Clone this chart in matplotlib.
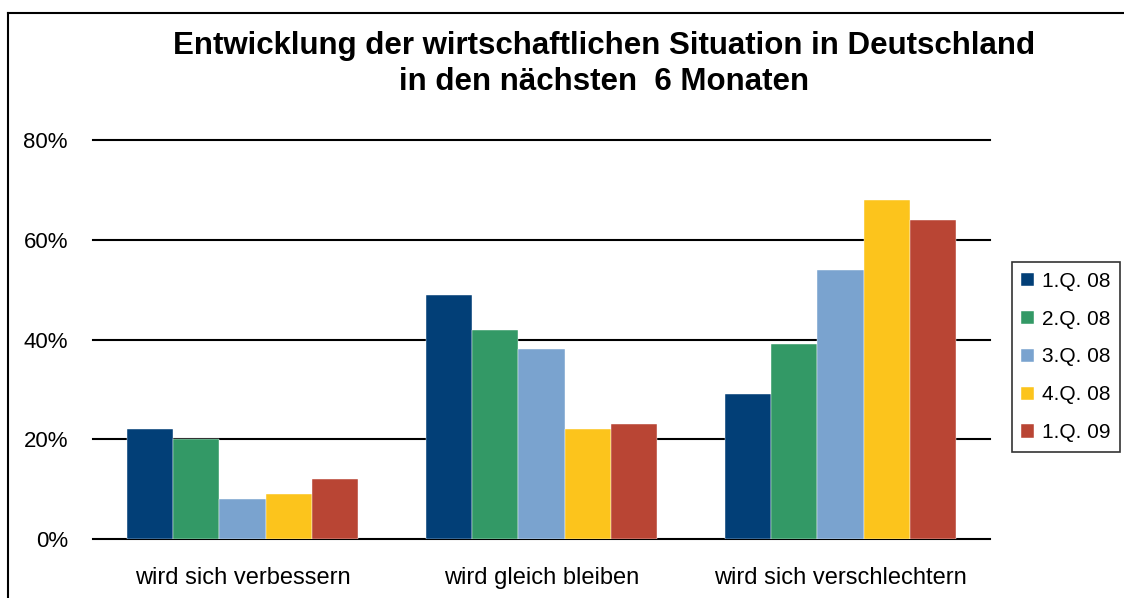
import matplotlib
matplotlib.use('Agg')
import matplotlib.pyplot as plt
from matplotlib.lines import Line2D
import numpy as np

plt.rcParams['font.family'] = ['Liberation Sans', 'DejaVu Sans']

# Daten
kategorien = ['wird sich verbessern', 'wird gleich bleiben', 'wird sich verschlechtern']
quartale = ['1.Q. 08', '2.Q. 08', '3.Q. 08', '4.Q. 08', '1.Q. 09']
werte_1q08 = [22, 49, 29]
werte_2q08 = [20, 42, 39]
werte_3q08 = [8, 38, 54]
werte_4q08 = [9, 22, 68]
werte_1q09 = [12, 23, 64]
farben = ['#023f77', '#339966', '#7aa3cf', '#fcc41c', '#b94534']

serien = [werte_1q08, werte_2q08, werte_3q08, werte_4q08, werte_1q09]

fig = plt.figure(figsize=(11.24, 5.98), dpi=100)
ax = fig.add_axes([93 / 1124, 1 - 539 / 598, 897 / 1124, 399 / 598])

x = np.arange(len(kategorien))
breite = 0.154
for i, (werte, farbe, name) in enumerate(zip(serien, farben, quartale)):
    ax.bar(x + (i - 2) * breite, np.array(werte) / 100, breite, color=farbe,
           label=name, zorder=3, edgecolor='white', linewidth=0.3)

ax.set_xlim(-0.5, 2.5)
ax.set_ylim(0, 0.8)
ax.set_yticks([0, 0.2, 0.4, 0.6, 0.8])
ax.set_yticklabels(['0%', '20%', '40%', '60%', '80%'])
ax.set_xticks(x)
ax.set_xticklabels(kategorien)
ax.tick_params(axis='both', length=0)
ax.tick_params(axis='y', pad=18, labelsize=16)
ax.tick_params(axis='x', pad=20, labelsize=17)
ax.yaxis.grid(True, color='black', linewidth=1.5, zorder=0)
for gl in ax.get_ygridlines():
    gl.set_clip_on(False)
for s in ax.spines.values():
    s.set_visible(False)

fig.text(0.537, 1 - 64 / 598,
         'Entwicklung der wirtschaftlichen Situation in Deutschland\nin den nächsten  6 Monaten',
         ha='center', va='center', fontsize=22.5, fontweight='bold', linespacing=1.25)

leg = ax.legend(loc='center left', bbox_to_anchor=(1012 / 1124, 1 - 357 / 598),
                bbox_transform=fig.transFigure, frameon=True, fancybox=False,
                edgecolor='black', fontsize=15, handlelength=0.6, handleheight=0.6,
                handletextpad=0.4, labelspacing=0.91, borderpad=0.45, borderaxespad=0)
leg.get_frame().set_linewidth(1.2)

# Rahmen
fig.add_artist(Line2D([8 / 1124, 8 / 1124], [0, 1 - 13 / 598], transform=fig.transFigure,
                      color='black', linewidth=1.5))
fig.add_artist(Line2D([8 / 1124, 1], [1 - 13 / 598, 1 - 13 / 598], transform=fig.transFigure,
                      color='black', linewidth=1.5))

fig.savefig('out.png', dpi=100)
